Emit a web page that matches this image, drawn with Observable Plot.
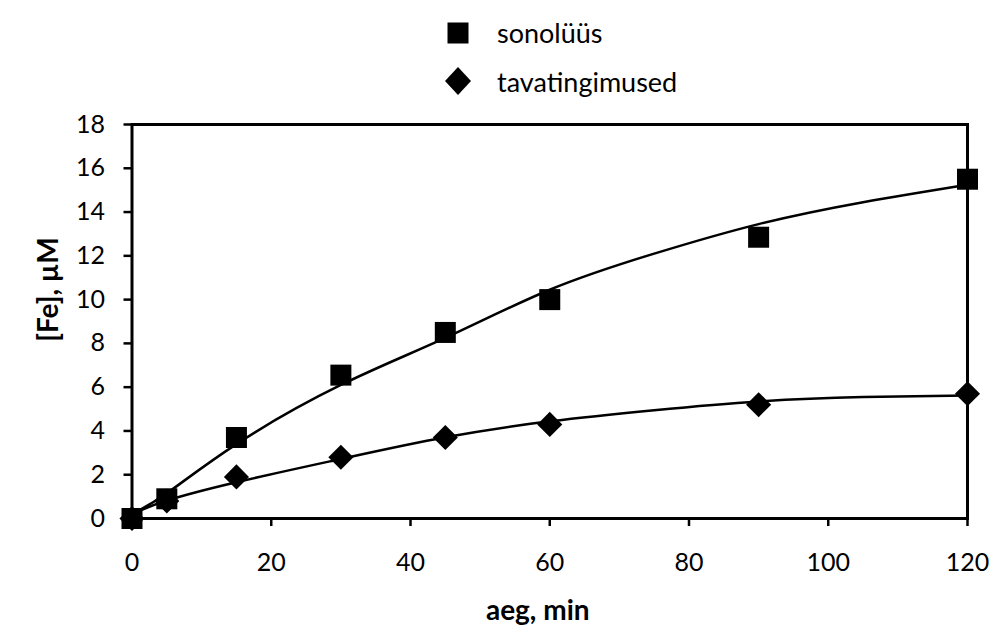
<!DOCTYPE html>
<html>
<head>
<meta charset="utf-8">
<script src="https://cdn.jsdelivr.net/npm/d3@7"></script>
<script src="https://cdn.jsdelivr.net/npm/@observablehq/plot@0.6"></script>
<style>
  body { margin: 0; background: #fff; font-family: Lato, "Open Sans", sans-serif; }
  #legend { position: relative; width: 992px; height: 100px; }
  .item { position: absolute; display: flex; align-items: center; font-size: 27px; color: #000; line-height: 1; }
</style>
</head>
<body>
<div id="legend"></div>
<div id="chart"></div>
<script>
// measured points
const times = [0, 5, 15, 30, 45, 60, 90, 120];
const sonolyys = [0, 0.9, 3.7, 6.55, 8.5, 10.0, 12.85, 15.5];
const tavatingimused = [0, 0.8, 1.9, 2.8, 3.7, 4.3, 5.2, 5.7];
// trend lines
const fitTimes = [0, 5, 15, 30, 45, 60, 75, 90, 105, 120];
const sonolyysFit = [0.2, 1.15, 3.4, 6.1, 8.25, 10.45, 12.1, 13.45, 14.45, 15.25];
const tavaFit = [0.2, 0.82, 1.66, 2.72, 3.71, 4.44, 4.95, 5.35, 5.55, 5.62];
const xTicks = [0, 20, 40, 60, 80, 100, 120];
const yTicks = [0, 2, 4, 6, 8, 10, 12, 14, 16, 18];
const seriesNames = ["sonolüüs", "tavatingimused"];

const sonoPts = times.map((t, i) => ({t, v: sonolyys[i]}));
const tavaPts = times.map((t, i) => ({t, v: tavatingimused[i]}));
const sonoLine = fitTimes.map((t, i) => ({t, v: sonolyysFit[i]}));
const tavaLine = fitTimes.map((t, i) => ({t, v: tavaFit[i]}));

// legend (HTML above the chart)
const legend = document.getElementById("legend");
const shapes = [
  '<svg width="22" height="22"><rect x="0.5" y="0.5" width="21" height="21" fill="#000"/></svg>',
  '<svg width="26" height="28"><polygon points="13,0 26,14 13,28 0,14" fill="#000"/></svg>'
];
const tops = [19, 67];
seriesNames.forEach((name, i) => {
  const d = document.createElement("div");
  d.className = "item";
  d.style.top = tops[i] + "px";
  d.style.left = (i === 0 ? 447 : 445) + "px";
  d.innerHTML = shapes[i] + "<span>" + name + "</span>";
  d.querySelector("svg").style.marginRight = (i === 0 ? 28 : 26) + "px";
  legend.appendChild(d);
});

const chart = Plot.plot({
  width: 992,
  height: 528,
  marginLeft: 131.5,
  marginRight: 25,
  marginTop: 24,
  marginBottom: 110,
  style: {fontFamily: "Lato, 'Open Sans', sans-serif", fontSize: "25px", color: "#000", background: "#fff", overflow: "visible"},
  x: {domain: [0, 120]},
  y: {domain: [0, 18]},
  marks: [
    Plot.frame({stroke: "#000", strokeWidth: 3}),
    Plot.axisX({ticks: xTicks, tickSize: 8, tickPadding: 27, strokeWidth: 2.5, label: null, fontSize: 25}),
    Plot.axisY({ticks: yTicks, tickSize: 8, tickPadding: 19, strokeWidth: 2.5, label: null, fontSize: 25}),
    Plot.line(sonoLine, {x: "t", y: "v", curve: "natural", stroke: "#000", strokeWidth: 2.5}),
    Plot.line(tavaLine, {x: "t", y: "v", curve: "natural", stroke: "#000", strokeWidth: 2.5}),
    Plot.dot(tavaPts, {x: "t", y: "v", symbol: "diamond2", r: 11.3, fill: "#000", stroke: "none"}),
    Plot.dot(sonoPts, {x: "t", y: "v", symbol: "square", r: 11.85, fill: "#000", stroke: "none"}),
    Plot.text(["[Fe], µM"], {frameAnchor: "left", textAnchor: "middle", rotate: -90, dx: -83, dy: -32, fontWeight: "bold", fontSize: 28}),
    Plot.text(["aeg, min"], {frameAnchor: "bottom", dy: 101, dx: -12, fontWeight: "bold", fontSize: 28})
  ]
});
document.getElementById("chart").appendChild(chart);
</script>
</body>
</html>
